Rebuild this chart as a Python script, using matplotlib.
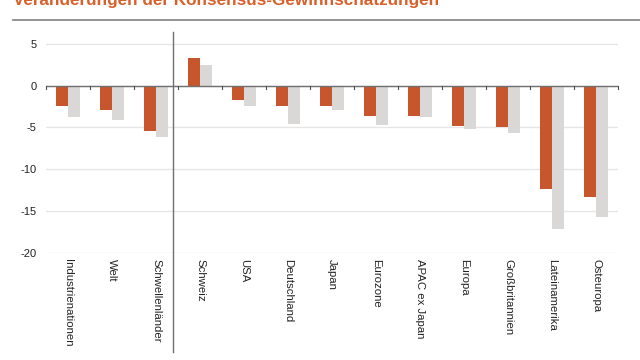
import numpy as np
import matplotlib
matplotlib.use("Agg")
import matplotlib.pyplot as plt
import matplotlib.transforms as mtransforms

plt.rcParams['font.family'] = ['Liberation Sans', 'DejaVu Sans']

# data
categories = ["Industrienationen", "Welt", "Schwellenländer", "Schweiz", "USA",
              "Deutschland", "Japan", "Eurozone", "APAC ex Japan", "Europa",
              "Großbritannien", "Lateinamerika", "Osteuropa"]
series_a = [-2.4, -2.9, -5.4, 3.3, -1.7, -2.4, -2.4, -3.6, -3.6, -4.8, -4.9, -12.4, -13.3]
series_b = [-3.7, -4.1, -6.1, 2.5, -2.4, -4.6, -2.9, -4.7, -3.8, -5.2, -5.7, -17.1, -15.7]
yticks = [5, 0, -5, -10, -15, -20]
title = "Veränderungen der Konsensus-Gewinnschätzungen"

orange = "#C8562C"
grey = "#D9D8D6"

fig = plt.figure(figsize=(6.4, 3.6), dpi=100)
ax = fig.add_axes([46 / 640, 1 - 253 / 360, 572 / 640, (253 - 32) / 360])

x = np.arange(len(categories))
w = 0.28
ax.bar(x - w / 2, series_a, w, color=orange, zorder=3)
ax.bar(x + w / 2, series_b, w, color=grey, zorder=3)

ax.set_xlim(-0.5, len(categories) - 0.5)
ax.set_ylim(-20, 6.4)

ax.set_yticks(yticks)
ax.set_yticklabels([str(t) for t in yticks], fontsize=8, color="#222222")
ax.tick_params(axis='y', length=0, pad=7)
ax.grid(axis='y', color="#E6E6E6", linewidth=1.0, zorder=0)

for s in ['left', 'right', 'top', 'bottom']:
    ax.spines[s].set_visible(False)

# zero line with ticks at category boundaries
ax.axhline(0, color="#707070", linewidth=1.0, zorder=4)
trans = mtransforms.blended_transform_factory(ax.transData, ax.transAxes)
ax.set_xticks([])
for b in np.arange(-0.5, len(categories), 1.0):
    ax.plot([b, b], [0, -0.45], color="#505050", linewidth=0.8, zorder=4, clip_on=False)

# category labels
for xi, lab in zip(x, categories):
    ax.text(xi, -0.025, lab, transform=trans, rotation=270, ha='center', va='top',
            fontsize=8.2, color="#222222")

# separator line
fig.add_artist(plt.Line2D([173 / 640, 173 / 640], [1 - 32 / 360, 1 - 352 / 360],
                          color="#707070", linewidth=1.0))

# title and rule
fig.text(13 / 640, 1 - 5 / 360, title, fontsize=12.3, fontweight='bold',
         color="#D9602A", ha='left', va='baseline')
fig.add_artist(plt.Line2D([13 / 640, 1.0], [1 - 20 / 360, 1 - 20 / 360],
                          color="#808080", linewidth=1.2))

fig.savefig("out.png", dpi=100)
